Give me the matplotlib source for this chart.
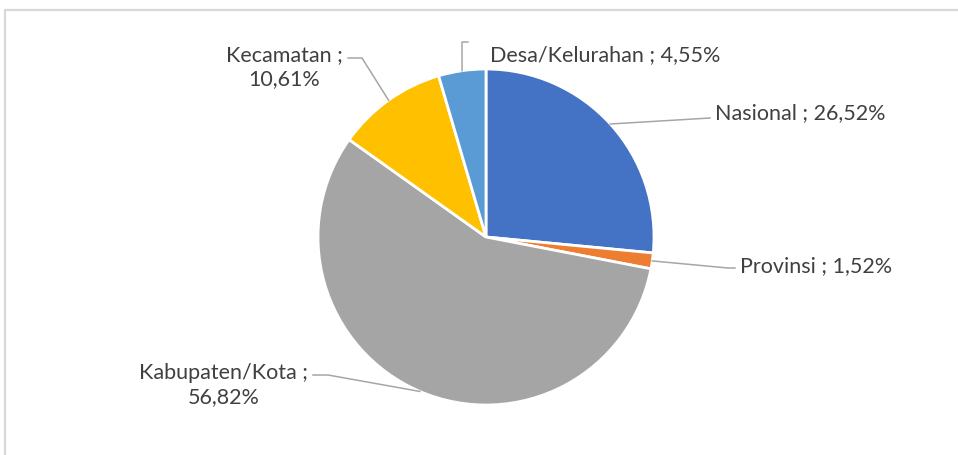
import matplotlib
matplotlib.use("Agg")
import matplotlib.pyplot as plt
import numpy as np

categories = ["Nasional", "Provinsi", "Kabupaten/Kota", "Kecamatan", "Desa/Kelurahan"]
values = [26.52, 1.52, 56.82, 10.61, 4.55]
labels = ["Nasional ; 26,52%", "Provinsi ; 1,52%", "Kabupaten/Kota ;\n56,82%",
          "Kecamatan ;\n10,61%", "Desa/Kelurahan ; 4,55%"]
colors = ["#4472C4", "#ED7D31", "#A5A5A5", "#FFC000", "#5B9BD5"]

W, H = 958, 455
fig = plt.figure(figsize=(W / 100, H / 100), dpi=100)
ax = fig.add_axes([0, 0, 1, 1])

cx, cy, R = 486, H - 237, 168
wedges, _ = ax.pie(values, colors=colors, startangle=90, counterclock=False,
                   center=(cx, cy), radius=R, frame=True,
                   wedgeprops=dict(edgecolor="white", linewidth=2))
ax.set_xlim(0, W)
ax.set_ylim(0, H)
ax.set_aspect("equal")
ax.axis("off")

# chart border (top and left visible)
ax.plot([5.5, 5.5, W + 5], [-5, H - 9.5, H - 9.5], color="#d9d9d9", lw=1.6,
        clip_on=False)

lead = dict(color="#a6a6a6", lw=1.1)
txt = dict(fontsize=15.5, color="#404040", family=["Lato", "DejaVu Sans"])

def edge_pt(w):
    a = np.deg2rad((w.theta1 + w.theta2) / 2)
    return cx + R * np.cos(a), cy + R * np.sin(a)

# layout: (text x, text y, ha, bend points in pixels)
layout = [
    (715, 113, "left", [(710, 118)]),
    (740, 266, "left", [(728, 268), (735, 268)]),
    (224, 385, "center", [(328, 375), (313, 375)]),
    (284, 67, "center", [(362, 58), (348, 58)]),
    (490, 55, "left", [(462, 42), (468, 42)]),
]

for w, lab, (tx, ty, ha, pts) in zip(wedges, labels, layout):
    ex, ey = edge_pt(w)
    xs = [ex] + [p[0] for p in pts]
    ys = [ey] + [H - p[1] for p in pts]
    ax.plot(xs, ys, **lead)
    ax.text(tx, H - ty, lab, ha=ha, va="center", linespacing=1.3,
            multialignment="center", **txt)

fig.savefig("out.png", dpi=100)
